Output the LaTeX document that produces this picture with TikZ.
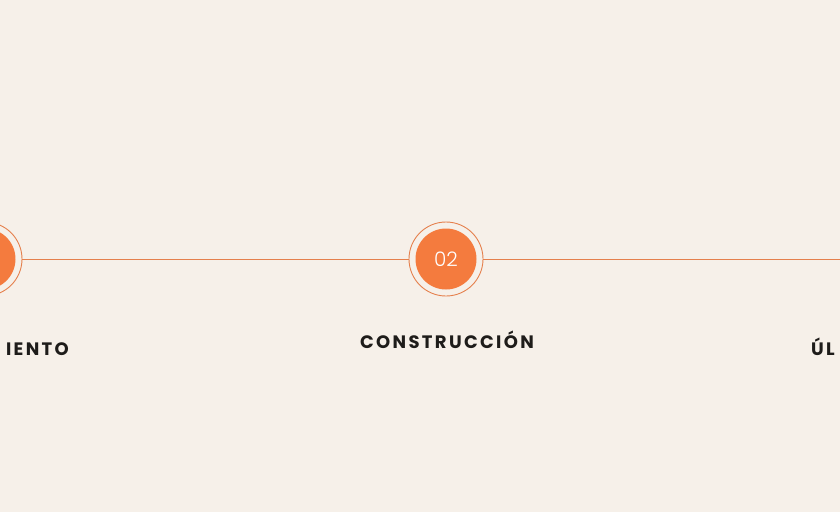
\documentclass[tikz,border=0pt]{standalone}
\usepackage{fontspec}
\setmainfont{Poppins}
\newfontfamily\steplabelfont[LetterSpace=13]{Poppins}
\newfontfamily\stepnumfont{Poppins Light}
\definecolor{paper}{HTML}{F6F0E9}
\definecolor{accent}{HTML}{F47B3E}
\definecolor{ringline}{HTML}{E5804D}
\definecolor{ink}{HTML}{1E1C1A}
\tikzset{
  stepring/.style={circle, draw=ringline, line width=0.9pt, fill=paper,
    minimum size=74pt, inner sep=0pt},
  stepdot/.style={circle, fill=accent, minimum size=61pt, inner sep=0pt,
    text=white, font=\stepnumfont\fontsize{20}{20}\selectfont},
  steplabel/.style={text=ink, inner sep=0pt,
    font=\steplabelfont\bfseries\fontsize{18}{18}\selectfont},
  timeline/.style={draw=ringline, line width=0.9pt}
}
\begin{document}
\begin{tikzpicture}[x=1pt,y=-1pt]
  \useasboundingbox (0,0) rectangle (840,512);
  \clip (0,0) rectangle (840,512);
  % background
  \fill[paper] (0,0) rectangle (840,512);

  % step circles
  \node[stepring] (ring1) at (-15,259) {};
  \node[stepdot] (dot1) at (ring1) {};
  \node[stepring] (ring2) at (446,259) {};
  \node[stepdot] (dot2) at (ring2) {02};
  \coordinate (lineend) at (842,259);

  % connecting line
  \draw[timeline] (ring1) -- (ring2);
  \draw[timeline] (ring2) -- (lineend);

  % labels
  \node[steplabel, anchor=base east] (lab1) at (69,355) {IENTO};
  \node[steplabel, anchor=base] (lab2) at (447,348) {CONSTRUCCIÓN};
  \node[steplabel, anchor=base west] (lab3) at (811,355) {ÚL};
\end{tikzpicture}
\end{document}
